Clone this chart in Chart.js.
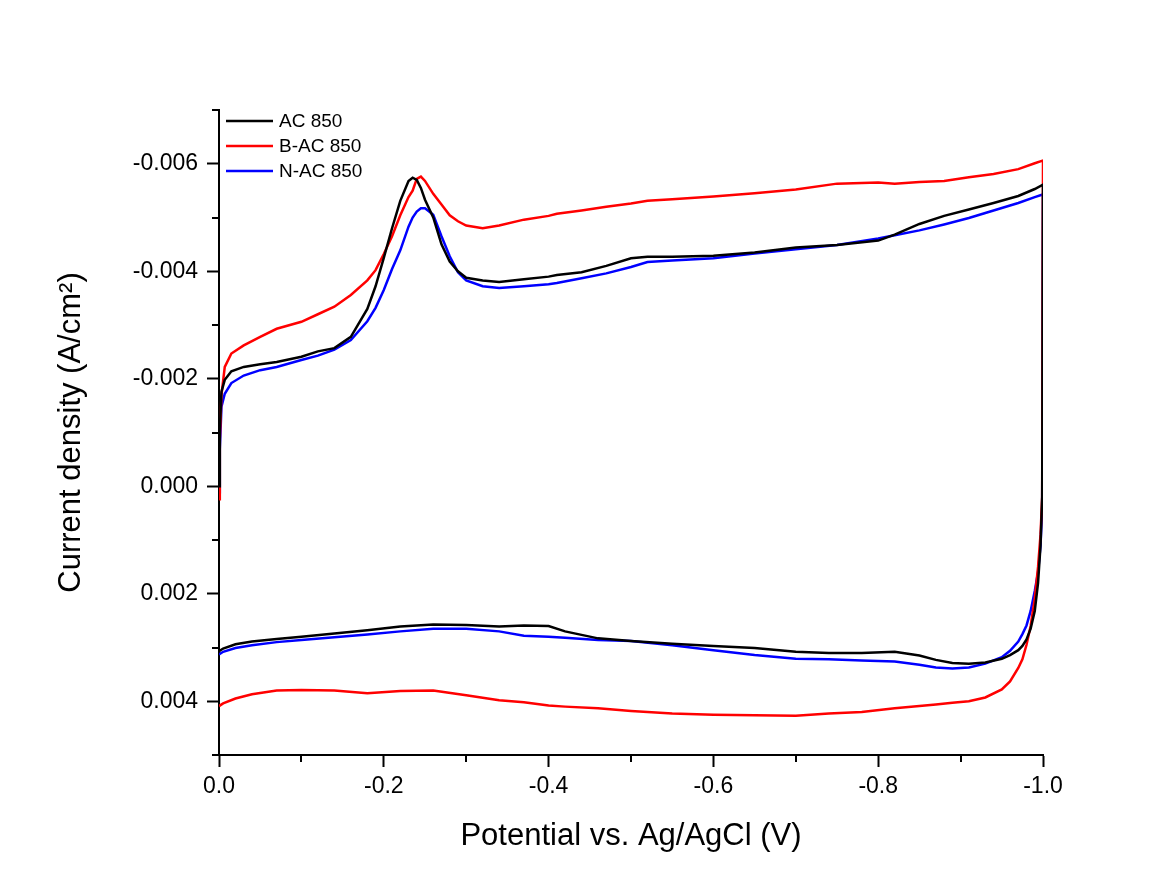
<!DOCTYPE html>
<html lang="en">
<head>
<meta charset="UTF-8" />
<title>Cyclic voltammograms AC 850</title>
<script src="https://cdn.jsdelivr.net/npm/chart.js"></script>
<style>
  html, body { margin: 0; padding: 0; background: #fff; }
  #wrap { width: 1168px; height: 895px; position: relative; }
</style>
</head>
<body>
<div id="wrap"><canvas id="cv"></canvas></div>
<script>
  // Forward scan, 0 -> -1.0 V (potential in V, current density in A/cm2)
  const potFwd = [0, -0.001, -0.003, -0.007, -0.015, -0.03, -0.05, -0.07, -0.1, -0.12,
    -0.14, -0.16, -0.18, -0.19, -0.2, -0.21, -0.22, -0.23, -0.235, -0.24,
    -0.245, -0.25, -0.26, -0.27, -0.28, -0.29, -0.3, -0.32, -0.34, -0.37,
    -0.4, -0.41, -0.44, -0.47, -0.5, -0.52, -0.55, -0.6, -0.65, -0.7,
    -0.75, -0.8, -0.82, -0.85, -0.88, -0.91, -0.94, -0.97, -0.99, -1.0];
  const acFwd = [0, -0.00106, -0.00176, -0.00198, -0.00214, -0.00222, -0.00227, -0.00231, -0.00241, -0.00251,
    -0.00257, -0.00278, -0.0033, -0.00372, -0.00425, -0.0048, -0.00531, -0.00568, -0.00574, -0.0057,
    -0.00555, -0.00533, -0.005, -0.0045, -0.00418, -0.004, -0.00388, -0.00383, -0.0038, -0.00385,
    -0.0039, -0.00393, -0.00398, -0.0041, -0.00424, -0.00427, -0.00427, -0.00429, -0.00435, -0.00444,
    -0.00449, -0.00457, -0.00468, -0.00488, -0.00503, -0.00515, -0.00527, -0.0054, -0.00553, -0.00561];
  const bacFwd = [0.00024, -0.00087, -0.0017, -0.00222, -0.00247, -0.00262, -0.00278, -0.00293, -0.00306, -0.0032,
    -0.00334, -0.00356, -0.00383, -0.00402, -0.00432, -0.00465, -0.00504, -0.00538, -0.0055, -0.00572,
    -0.00576, -0.00568, -0.00544, -0.00524, -0.00504, -0.00493, -0.00485, -0.0048, -0.00485, -0.00496,
    -0.00503, -0.00507, -0.00513, -0.0052, -0.00526, -0.00531, -0.00534, -0.00539, -0.00545, -0.00552,
    -0.00563, -0.00565, -0.00563, -0.00566, -0.00568, -0.00575, -0.00581, -0.0059, -0.00601, -0.00606];
  const nacFwd = [0.00011, -0.00069, -0.00148, -0.00172, -0.00192, -0.00206, -0.00216, -0.00222, -0.00235, -0.00243,
    -0.00254, -0.00272, -0.00307, -0.00332, -0.00365, -0.00404, -0.00439, -0.00483, -0.005, -0.00511,
    -0.00517, -0.00517, -0.00505, -0.00465, -0.00428, -0.00398, -0.00383, -0.00372, -0.00369, -0.00372,
    -0.00376, -0.00378, -0.00387, -0.00396, -0.00408, -0.00417, -0.0042, -0.00424, -0.00433, -0.00441,
    -0.00449, -0.00461, -0.00467, -0.00476, -0.00487, -0.00499, -0.00513, -0.00527, -0.00538, -0.00543];

  // Reverse scan, -1.0 -> 0 V
  const potRev = [-0.999, -0.997, -0.994, -0.99, -0.985, -0.98, -0.975, -0.97, -0.96, -0.95,
    -0.93, -0.91, -0.89, -0.87, -0.85, -0.82, -0.78, -0.74, -0.7, -0.65,
    -0.6, -0.55, -0.5, -0.46, -0.42, -0.4, -0.37, -0.34, -0.3, -0.26,
    -0.22, -0.18, -0.14, -0.1, -0.07, -0.04, -0.02, -0.005, 0];
  const acRev = [0.0002, 0.0011, 0.0018, 0.00232, 0.00265, 0.00285, 0.00297, 0.00305, 0.00314, 0.00321,
    0.00328, 0.0033, 0.00329, 0.00323, 0.00315, 0.00308, 0.0031, 0.0031, 0.00308, 0.00301,
    0.00297, 0.00293, 0.00288, 0.00283, 0.0027, 0.0026, 0.00259, 0.00261, 0.00258, 0.00257,
    0.00261, 0.00268, 0.00274, 0.0028, 0.00284, 0.00289, 0.00294, 0.00302, 0.00307];
  const bacRev = [0.0002, 0.0009, 0.0015, 0.00209, 0.0026, 0.00295, 0.00322, 0.00338, 0.00363, 0.00378,
    0.00393, 0.004, 0.00403, 0.00406, 0.00409, 0.00413, 0.0042, 0.00423, 0.00427, 0.00426,
    0.00425, 0.00423, 0.00418, 0.00413, 0.0041, 0.00408, 0.00402, 0.00398, 0.00389, 0.0038,
    0.00381, 0.00385, 0.0038, 0.00379, 0.0038, 0.00387, 0.00395, 0.00404, 0.00409];
  const nacRev = [0.0004, 0.0011, 0.0016, 0.00195, 0.00232, 0.00259, 0.00275, 0.00289, 0.00306, 0.00318,
    0.0033, 0.00337, 0.00339, 0.00337, 0.00332, 0.00326, 0.00324, 0.00322, 0.00321, 0.00314,
    0.00305, 0.00296, 0.00288, 0.00286, 0.00282, 0.0028, 0.00278, 0.0027, 0.00265, 0.00265,
    0.0027, 0.00276, 0.00281, 0.00286, 0.0029, 0.00296, 0.00301, 0.00308, 0.00313];

  const seriesNames = ['AC 850', 'B-AC 850', 'N-AC 850'];
  const seriesColors = ['#000000', '#ff0000', '#0000ff'];

  const xTickLabels = ['0.0', '-0.2', '-0.4', '-0.6', '-0.8', '-1.0'];
  const yTickLabels = ['-0.006', '-0.004', '-0.002', '0.000', '0.002', '0.004'];

  const FONT = '"Liberation Sans", Arial, sans-serif';

  // one loop per sample: forward branch then reverse branch
  function loop(fwd, rev) {
    const pts = potFwd.map((x, i) => ({ x: x, y: fwd[i] }));
    return pts.concat(potRev.map((x, i) => ({ x: x, y: rev[i] })));
  }

  const fmtX = v => (Math.round(v * 10) / 10 + 0).toFixed(1);
  const fmtY = v => (Math.round(v * 1000) / 1000 + 0).toFixed(3);
  const isMajorX = v => xTickLabels.includes(fmtX(v));
  const isMajorY = v => yTickLabels.includes(fmtY(v));

  // short minor ticks, drawn outward like the major ones
  const minorTicks = {
    id: 'minorTicks',
    afterDraw(chart) {
      const { ctx, chartArea } = chart;
      const xs = chart.scales.x, ys = chart.scales.y;
      ctx.save();
      ctx.strokeStyle = '#000';
      ctx.lineWidth = 2;
      ctx.beginPath();
      xs.ticks.forEach(t => {
        if (isMajorX(t.value)) return;
        const px = Math.round(xs.getPixelForValue(t.value));
        ctx.moveTo(px, chartArea.bottom);
        ctx.lineTo(px, chartArea.bottom + 7);
      });
      ys.ticks.forEach(t => {
        if (isMajorY(t.value)) return;
        const py = Math.round(ys.getPixelForValue(t.value));
        ctx.moveTo(chartArea.left, py);
        ctx.lineTo(chartArea.left - 7, py);
      });
      ctx.stroke();
      ctx.restore();
    }
  };

  // legend box in the upper-left corner of the plot
  const cornerLegend = {
    id: 'cornerLegend',
    afterDraw(chart) {
      const { ctx, chartArea } = chart;
      ctx.save();
      ctx.font = '19px ' + FONT;
      ctx.textBaseline = 'middle';
      chart.data.datasets.forEach((ds, i) => {
        const y = chartArea.top + 11 + i * 25;
        ctx.strokeStyle = ds.borderColor;
        ctx.lineWidth = 2.5;
        ctx.beginPath();
        ctx.moveTo(chartArea.left + 7, y);
        ctx.lineTo(chartArea.left + 54, y);
        ctx.stroke();
        ctx.fillStyle = '#000';
        ctx.fillText(ds.label, chartArea.left + 60, y + 1);
      });
      ctx.restore();
    }
  };

  new Chart(document.getElementById('cv'), {
    type: 'scatter',
    data: {
      datasets: [
        { label: seriesNames[0], data: loop(acFwd, acRev), borderColor: seriesColors[0] },
        { label: seriesNames[1], data: loop(bacFwd, bacRev), borderColor: seriesColors[1] },
        { label: seriesNames[2], data: loop(nacFwd, nacRev), borderColor: seriesColors[2] }
      ].map(d => Object.assign(d, { showLine: true, borderWidth: 2.5, pointRadius: 0, fill: false, tension: 0 }))
    },
    options: {
      responsive: true,
      maintainAspectRatio: false,
      animation: false,
      layout: { padding: { left: 0, top: 110, right: 125, bottom: 0 } },
      plugins: { legend: { display: false }, tooltip: { enabled: false } },
      scales: {
        x: {
          type: 'linear',
          reverse: true,
          min: -1,
          max: 0,
          border: { display: true, color: '#000', width: 2 },
          grid: {
            drawOnChartArea: false,
            tickLength: 12,
            tickWidth: 2,
            tickColor: c => (c.tick && isMajorX(c.tick.value)) ? '#000' : 'rgba(0,0,0,0)'
          },
          ticks: {
            stepSize: 0.1,
            autoSkip: false,
            maxRotation: 0,
            padding: 6,
            color: '#000',
            font: { family: FONT, size: 23 },
            callback: v => isMajorX(v) ? fmtX(v) : ''
          },
          title: {
            display: true,
            text: 'Potential vs. Ag/AgCl (V)',
            color: '#000',
            font: { family: FONT, size: 31 },
            padding: { top: 0, bottom: 40 }
          },
          afterFit: s => { s.height = 140; }
        },
        y: {
          type: 'linear',
          reverse: true,
          min: -0.007,
          max: 0.005,
          border: { display: true, color: '#000', width: 2 },
          grid: {
            drawOnChartArea: false,
            tickLength: 12,
            tickWidth: 2,
            tickColor: c => (c.tick && isMajorY(c.tick.value)) ? '#000' : 'rgba(0,0,0,0)'
          },
          ticks: {
            stepSize: 0.001,
            autoSkip: false,
            padding: 9,
            color: '#000',
            font: { family: FONT, size: 23 },
            callback: v => isMajorY(v) ? fmtY(v) : ''
          },
          title: {
            display: true,
            text: 'Current density (A/cm\u00B2)',
            color: '#000',
            font: { family: FONT, size: 31 },
            padding: { top: 53, bottom: 0 }
          },
          afterFit: s => { s.width = 219; }
        }
      }
    },
    plugins: [minorTicks, cornerLegend]
  });
</script>
</body>
</html>
